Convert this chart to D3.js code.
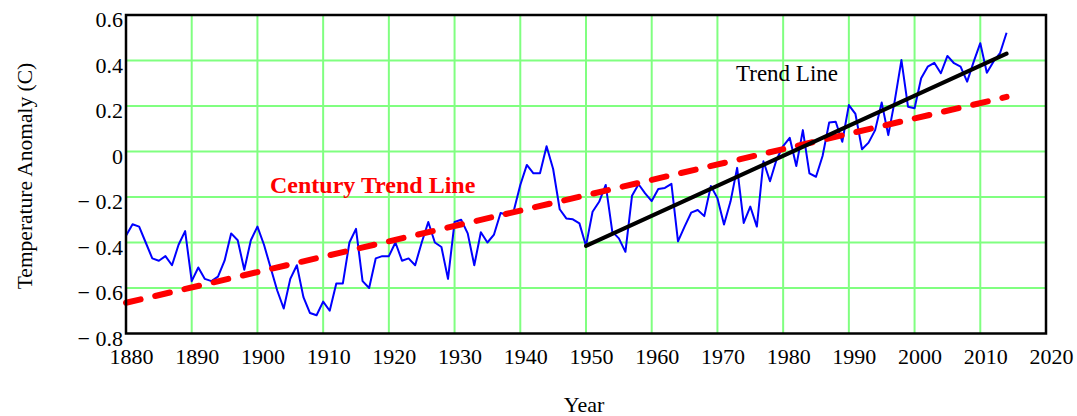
<!DOCTYPE html>
<html>
<head>
<meta charset="utf-8">
<script src="https://cdn.jsdelivr.net/npm/d3@7"></script>
<style>
  body { margin: 0; background: #fff; }
  svg { display: block; }
  text { font-family: "Liberation Serif", "Times New Roman", serif; fill: #000; }
</style>
</head>
<body>
<div id="chart"></div>
<script>
// Annual temperature anomaly (C), one value per year from firstYear
const firstYear = 1880;
const anomalies = [
  -0.37, -0.32, -0.33, -0.40, -0.47, -0.48, -0.46, -0.50, -0.41, -0.35,
  -0.57, -0.51, -0.56, -0.57, -0.55, -0.48, -0.36, -0.39, -0.52, -0.39,
  -0.33, -0.41, -0.51, -0.61, -0.69, -0.56, -0.50, -0.64, -0.71, -0.72,
  -0.66, -0.70, -0.58, -0.58, -0.40, -0.34, -0.57, -0.60, -0.47, -0.46,
  -0.46, -0.40, -0.48, -0.47, -0.50, -0.40, -0.31, -0.40, -0.42, -0.56,
  -0.31, -0.30, -0.36, -0.50, -0.355, -0.40, -0.365, -0.27, -0.278, -0.262,
  -0.147, -0.059, -0.096, -0.096, 0.023, -0.077, -0.254, -0.294, -0.298, -0.316,
  -0.415, -0.265, -0.221, -0.147, -0.352, -0.382, -0.441, -0.195, -0.144, -0.184,
  -0.218, -0.165, -0.16, -0.142, -0.395, -0.33, -0.269, -0.257, -0.284, -0.152,
  -0.205, -0.321, -0.219, -0.072, -0.314, -0.242, -0.33, -0.043, -0.131, -0.035,
  0.024, 0.06, -0.064, 0.094, -0.096, -0.111, -0.02, 0.127, 0.131, 0.043,
  0.204, 0.165, 0.010, 0.039, 0.094, 0.215, 0.072, 0.226, 0.402, 0.197,
  0.19, 0.322, 0.373, 0.39, 0.344, 0.42, 0.388, 0.373, 0.307, 0.395,
  0.476, 0.346, 0.395, 0.432, 0.522
];

// Trend lines (end points)
const trendYears = [1950, 2014];
const trendValues = [-0.415, 0.43];
const centuryYears = [1880, 2014];
const centuryValues = [-0.665, 0.24];

// Axis ticks
const xTicks = [1880, 1890, 1900, 1910, 1920, 1930, 1940, 1950, 1960, 1970, 1980, 1990, 2000, 2010, 2020];
const yTicks = [-0.8, -0.6, -0.4, -0.2, 0, 0.2, 0.4, 0.6];

const width = 1077, height = 416;
const plot = { left: 126, right: 1046, top: 15, bottom: 333.5 };

const svg = d3.select('#chart').append('svg')
  .attr('width', width)
  .attr('height', height);

const x = d3.scaleLinear().domain([1880, 2020]).range([plot.left, plot.right]);
const y = d3.scaleLinear().domain([-0.8, 0.6]).range([plot.bottom, plot.top]);

// Grid
const grid = svg.append('g').attr('stroke', '#80ff80').attr('stroke-width', 2);
grid.selectAll('.vgrid')
  .data(xTicks.slice(1, -1))
  .join('line')
  .attr('class', 'vgrid')
  .attr('x1', d => x(d)).attr('x2', d => x(d))
  .attr('y1', plot.top).attr('y2', plot.bottom);
grid.selectAll('.hgrid')
  .data(yTicks.slice(1, -1))
  .join('line')
  .attr('class', 'hgrid')
  .attr('x1', plot.left).attr('x2', plot.right)
  .attr('y1', d => y(d)).attr('y2', d => y(d));

// Data line
const series = anomalies.map((v, i) => ({ year: firstYear + i, value: v }));
const line = d3.line().x(d => x(d.year)).y(d => y(d.value));

svg.append('path')
  .datum(series)
  .attr('fill', 'none')
  .attr('stroke', '#0000ff')
  .attr('stroke-width', 2)
  .attr('stroke-linejoin', 'round')
  .attr('d', line);

// Century trend (red dashed)
svg.append('path')
  .datum(centuryYears.map((yr, i) => ({ year: yr, value: centuryValues[i] })))
  .attr('fill', 'none')
  .attr('stroke', '#ff0000')
  .attr('stroke-width', 6)
  .attr('stroke-linecap', 'round')
  .attr('stroke-dasharray', '15,15')
  .attr('d', line);

// Trend since 1950 (black)
svg.append('path')
  .datum(trendYears.map((yr, i) => ({ year: yr, value: trendValues[i] })))
  .attr('fill', 'none')
  .attr('stroke', '#000')
  .attr('stroke-width', 4)
  .attr('stroke-linecap', 'round')
  .attr('d', line);

// Frame
svg.append('rect')
  .attr('x', plot.left).attr('y', plot.top)
  .attr('width', plot.right - plot.left)
  .attr('height', plot.bottom - plot.top)
  .attr('fill', 'none')
  .attr('stroke', '#000')
  .attr('stroke-width', 2.5);

// Axes
const xAxis = d3.axisBottom(x).tickValues(xTicks).tickSize(0).tickFormat(d3.format('d'));
const xAxisG = svg.append('g')
  .attr('transform', `translate(0,${plot.bottom})`)
  .call(xAxis);
xAxisG.select('.domain').remove();
xAxisG.selectAll('text')
  .attr('y', 30.5)
  .attr('dy', null)
  .attr('dx', 5)
  .style('font-size', '22px')
  .style('font-family', '"Liberation Serif", serif');

const fmt = d3.format('.1f');
const yAxis = d3.axisLeft(y).tickValues(yTicks).tickSize(0)
  .tickFormat(d => d === 0 ? '0' : (d < 0 ? '\u2212 ' + fmt(-d) : fmt(d)));
const yAxisG = svg.append('g')
  .attr('transform', `translate(${plot.left},0)`)
  .call(yAxis);
yAxisG.select('.domain').remove();
yAxisG.selectAll('text')
  .attr('x', -3)
  .attr('y', 11.5)
  .attr('dy', null)
  .style('font-size', '22px')
  .style('font-family', '"Liberation Serif", serif');

// Axis titles
svg.append('text')
  .attr('text-anchor', 'middle')
  .attr('transform', `translate(32,176) rotate(-90)`)
  .style('font-size', '21.5px')
  .text('Temperature Anomaly (C)');

svg.append('text')
  .attr('x', 584)
  .attr('y', 412)
  .attr('text-anchor', 'middle')
  .style('font-size', '22px')
  .text('Year');

// Line labels
svg.append('text')
  .attr('x', 736)
  .attr('y', 80.5)
  .style('font-size', '23px')
  .text('Trend Line');

svg.append('text')
  .attr('x', 270)
  .attr('y', 193)
  .style('font-size', '24px')
  .style('font-weight', 'bold')
  .style('fill', '#ff0000')
  .text('Century Trend Line');
</script>
</body>
</html>
